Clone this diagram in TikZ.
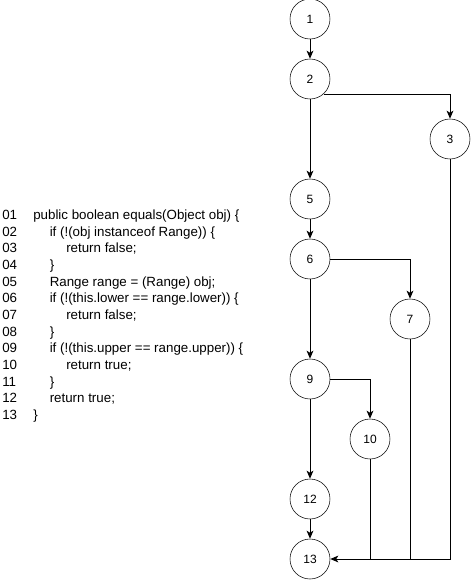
\documentclass[tikz,border=0pt]{standalone}
\usepackage{fontspec}
\setmainfont{Liberation Sans}
\usetikzlibrary{arrows.meta}
\begin{document}
\begin{tikzpicture}[x=0.75pt,y=-0.75pt,
  vtx/.style={draw,circle,minimum size=30pt,inner sep=0pt,font=\fontsize{9}{10}\selectfont},
  edge/.style={draw,line width=0.75pt,-{Stealth[length=6pt,width=5pt,inset=1.5pt]}},
  plain/.style={draw,line width=0.75pt},
  code/.style={anchor=base west,inner sep=0pt,font=\fontsize{10}{11}\selectfont}]
\useasboundingbox (0,0) rectangle (471,582);
\node[vtx] (n1) at (310,19) {1};
\node[vtx] (n2) at (310,79) {2};
\node[vtx] (n3) at (450,139) {3};
\node[vtx] (n5) at (310,199) {5};
\node[vtx] (n6) at (310,259) {6};
\node[vtx] (n7) at (410,319) {7};
\node[vtx] (n9) at (310,379) {9};
\node[vtx] (n10) at (370,439) {10};
\node[vtx] (n12) at (310,499) {12};
\node[vtx] (n13) at (310,559) {13};
\path[edge] (n1) -- (n2);
\path[edge] (n2) -- (n5);
\path[edge] (n2.-48.6) -| (n3);
\path[edge] (n5) -- (n6);
\path[edge] (n6) -- (n9);
\path[edge] (n6.east) -| (n7);
\path[edge] (n9) -- (n12);
\path[edge] (n9.east) -| (n10);
\path[edge] (n12) -- (n13);
\path[edge] (n3.south) |- (n13.east);
\path[plain] (n7.south) -- (n7.south |- n13.east);
\path[plain] (n10.south) -- (n10.south |- n13.east);
% code listing
\foreach \i/\num/\ind/\txt in {
 0/01/0/{public boolean equals(Object obj) \{},
 1/02/1/{if (!(obj instanceof Range)) \{},
 2/03/2/{return false;},
 3/04/1/{\}},
 4/05/1/{Range range = (Range) obj;},
 5/06/1/{if (!(this.lower == range.lower)) \{},
 6/07/2/{return false;},
 7/08/1/{\}},
 8/09/1/{if (!(this.upper == range.upper)) \{},
 9/10/2/{return true;},
 10/11/1/{\}},
 11/12/1/{return true;},
 12/13/0/{\}}}{
  \node[code] (ln\num) at (2,{219.5+16.67*\i}) {\num};
  \node[code] (cd\num) at ({33+16.5*\ind},{219.5+16.67*\i}) {\txt};
}
\end{tikzpicture}
\end{document}
